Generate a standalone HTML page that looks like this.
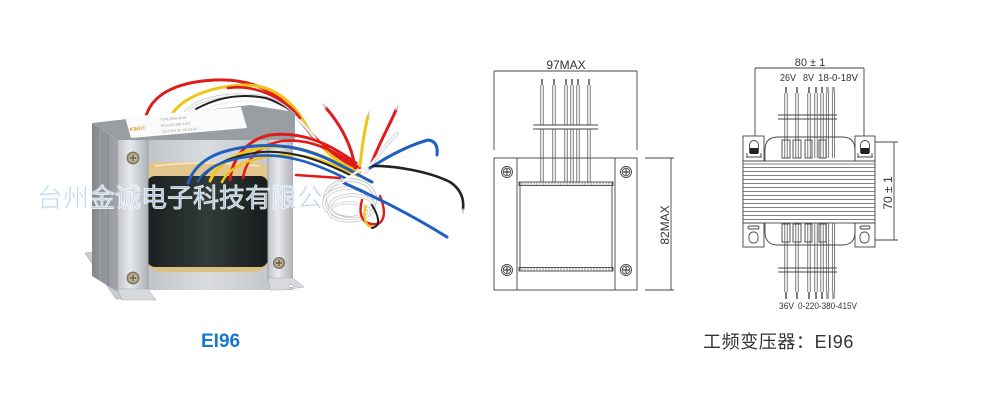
<!DOCTYPE html>
<html><head><meta charset="utf-8"><style>
html,body{margin:0;padding:0;background:#fff;}
svg{display:block}
</style></head><body>
<svg width="1000" height="400" viewBox="0 0 1000 400" xmlns="http://www.w3.org/2000/svg">
<defs>
<linearGradient id="core" x1="0" x2="1" y1="0" y2="0"><stop offset="0" stop-color="#b3b7bb"/><stop offset="0.5" stop-color="#d9dcdf"/><stop offset="1" stop-color="#bcc0c4"/></linearGradient>
<linearGradient id="brk" x1="0" x2="1"><stop offset="0" stop-color="#c0c4c9"/><stop offset="0.4" stop-color="#e8eaec"/><stop offset="1" stop-color="#aeb2b7"/></linearGradient>
<linearGradient id="stack" x1="0" x2="1"><stop offset="0" stop-color="#83888d"/><stop offset="1" stop-color="#a3a7ac"/></linearGradient>
<linearGradient id="coil" x1="0" x2="1"><stop offset="0" stop-color="#1a201f"/><stop offset="0.5" stop-color="#323b39"/><stop offset="1" stop-color="#171c1b"/></linearGradient>
<radialGradient id="screw"><stop offset="0" stop-color="#f3ead0"/><stop offset="1" stop-color="#8d8460"/></radialGradient>
</defs>

<!-- ================= PHOTO ================= -->
<g fill="none" stroke-linecap="round">
<path d="M145,120 C150,95 175,82 215,80 C255,78 282,95 300,120 C315,140 332,155 356,168" stroke="#e01b1b" stroke-width="3"/>
<path d="M172,114 C185,95 215,86 245,85 C272,85 292,100 306,125 C318,146 335,163 360,172" stroke="#f2c41a" stroke-width="3"/>
<path d="M186,111 C200,98 226,93 256,96 C282,99 297,115 311,135" stroke="#bbb" stroke-width="3.4"/>
<path d="M186,111 C200,98 226,93 256,96 C282,99 297,115 311,135" stroke="#f6f6f6" stroke-width="2.4"/>
<path d="M196,109 C216,98 240,93 266,98 C286,104 300,120 316,141" stroke="#222" stroke-width="2"/>
<path d="M205,109 C225,101 250,99 272,103 C292,110 305,125 320,145" stroke="#f4f4f4" stroke-width="2.4"/>
<path d="M228,88 C255,84 285,98 300,118" stroke="#e01b1b" stroke-width="2.6"/>
</g>

<polygon points="85,253 94,252 121,290 121,299 116,299" fill="#c9cdd1" stroke="#a5a9ad" stroke-width="0.6"/>
<polygon points="92,123 118,140 118,292 92,276" fill="url(#stack)"/>
<line x1="100" y1="130" x2="100" y2="281" stroke="#9fa4a8" stroke-width="1"/>
<line x1="108" y1="135" x2="108" y2="286" stroke="#7d8287" stroke-width="1"/>
<polygon points="92,123 250,105 295,112 295,140 118,140" fill="#999ea3"/>
<polygon points="125,117 241,107 247,128 131,138" fill="#fbfbfb"/>
<text x="130" y="131" font-family="Liberation Sans, sans-serif" font-size="5" font-weight="bold" fill="#e8922a" transform="rotate(-5 130 131)">KINGT</text>
<text x="160" y="121" font-family="Liberation Sans, sans-serif" font-size="3.5" fill="#999" transform="rotate(-5 160 121)">TYPE EI96 50VA</text>
<text x="161" y="127" font-family="Liberation Sans, sans-serif" font-size="3.5" fill="#999" transform="rotate(-5 161 127)">IN 0-220-380-415V</text>
<text x="162" y="133" font-family="Liberation Sans, sans-serif" font-size="3.5" fill="#999" transform="rotate(-5 162 133)">OUT 26V 8V 18-0-18V</text>
<rect x="118" y="140" width="175" height="150" fill="url(#core)"/>
<path d="M147,172 Q147,162 160,162 L255,162 Q268,162 268,172 L268,182 L147,182 Z" fill="#e3c68d"/>
<path d="M155,166 Q200,160 260,166" stroke="#f5e2b5" stroke-width="2" fill="none"/>
<path d="M147,262 Q150,272 165,272 L250,272 Q265,272 268,262 L268,255 L147,255 Z" fill="#dcbf82"/>
<rect x="147" y="176" width="121" height="91" rx="8" fill="url(#coil)"/>
<rect x="118" y="140" width="30" height="156" fill="url(#brk)"/>
<polygon points="118,289 148,289 156,300 122,300" fill="#d7dadd" stroke="#a9adb1" stroke-width="0.5"/>
<line x1="148" y1="140" x2="148" y2="289" stroke="#9ea2a6" stroke-width="1"/>
<rect x="268" y="140" width="25" height="144" fill="url(#brk)"/>
<polygon points="268,278 293,278 304,287 283,290 270,290" fill="#d7dadd" stroke="#a9adb1" stroke-width="0.5"/>
<ellipse cx="291" cy="286" rx="3" ry="1.3" fill="#fff" stroke="#999" stroke-width="0.5"/>
<line x1="268" y1="140" x2="268" y2="280" stroke="#a0a4a8" stroke-width="1"/>
<g stroke="#6a6450" stroke-width="0.8">
<circle cx="133" cy="158" r="6" fill="url(#screw)"/>
<circle cx="133" cy="278" r="6" fill="url(#screw)"/>
<circle cx="279" cy="263" r="5.5" fill="url(#screw)"/>
<path d="M130,158 H136 M133,155 V161 M130,278 H136 M133,275 V281 M276,263 H282 M279,260 V266" stroke="#4d4838" stroke-width="1.2"/>
</g>

<g fill="none" stroke-linecap="round">
<path d="M296,175 L340,178" stroke="#e01b1b" stroke-width="2.6"/>
<path d="M230,180 C232,160 245,140 270,135 C300,131 327,142 356,163" stroke="#e01b1b" stroke-width="3"/>
<path d="M243,178 C246,160 258,145 282,141 C310,138 333,150 360,168" stroke="#e01b1b" stroke-width="2.6"/>
<path d="M210,181 C218,162 238,151 268,147 C300,144 326,156 356,172" stroke="#f2c41a" stroke-width="3"/>
<path d="M222,182 C230,166 250,158 280,155 C308,153 330,163 358,176" stroke="#f2c41a" stroke-width="2.6"/>
<path d="M200,180 C212,164 232,155 262,152 C292,150 320,160 350,175" stroke="#222" stroke-width="2"/>
<path d="M188,183 C196,161 216,151 246,147 C285,142 311,150 340,165 C352,171 362,177 372,182" stroke="#1f5fc2" stroke-width="3"/>
<path d="M198,181 C208,166 226,159 254,156 C285,153 312,162 345,178" stroke="#1f5fc2" stroke-width="2.6"/>
</g>

<g fill="none">
<ellipse cx="350" cy="199" rx="25" ry="19" stroke="#bdbdbd" stroke-width="4"/>
<ellipse cx="350" cy="199" rx="25" ry="19" stroke="#f5f5f5" stroke-width="2.6"/>
<ellipse cx="348" cy="203" rx="24" ry="15" stroke="#c4c4c4" stroke-width="3.5"/>
<ellipse cx="348" cy="203" rx="24" ry="15" stroke="#f8f8f8" stroke-width="2.2"/>
<ellipse cx="352" cy="207" rx="22" ry="12" stroke="#c4c4c4" stroke-width="3.5"/>
<ellipse cx="352" cy="207" rx="22" ry="12" stroke="#f8f8f8" stroke-width="2.2"/>
<ellipse cx="349" cy="212" rx="20" ry="9" stroke="#c8c8c8" stroke-width="3"/>
<ellipse cx="349" cy="212" rx="20" ry="9" stroke="#fafafa" stroke-width="1.8"/>
</g>
<g fill="none" stroke-linecap="round">
<path d="M362,200 C358,215 362,226 378,224 C386,220 385,208 380,196" stroke="#e01b1b" stroke-width="2.4"/>
<path d="M366,206 C362,218 366,228 374,227" stroke="#f2c41a" stroke-width="2.2"/>
<path d="M372,205 C378,215 382,226 372,228" stroke="#222" stroke-width="2"/>
<path d="M355,168 C352,145 340,124 326,108" stroke="#e01b1b" stroke-width="3"/>
<path d="M326,108 L323,104" stroke="#c7c7c7" stroke-width="1.5"/>
<path d="M360,166 C362,146 365,128 368,116" stroke="#f2c41a" stroke-width="3"/>
<path d="M368,116 L369,112" stroke="#c7c7c7" stroke-width="1.5"/>
<path d="M372,162 C380,142 389,126 396,110" stroke="#e01b1b" stroke-width="3"/>
<path d="M396,110 L398,106" stroke="#c7c7c7" stroke-width="1.5"/>
<path d="M366,172 C378,155 388,142 397,134" stroke="#bbb" stroke-width="3.2"/>
<path d="M366,172 C378,155 388,142 397,134" stroke="#f8f8f8" stroke-width="2.2"/>
<path d="M370,168 C390,155 410,145 428,140 C436,141 438,147 437,155" stroke="#1f5fc2" stroke-width="3"/>
<path d="M368,166 C395,165 430,172 450,182 C462,190 464,200 463,209" stroke="#222" stroke-width="2.6"/>
<path d="M463,209 L463,213" stroke="#c7c7c7" stroke-width="1.5"/>
<path d="M342,182 C370,195 402,209 447,237" stroke="#1f5fc2" stroke-width="3"/>
<path d="M338,186 C350,175 360,170 372,164" stroke="#f6f6f6" stroke-width="2.2"/>
</g>

<text x="37" y="207" font-family="Liberation Sans, 'Noto Sans CJK SC', sans-serif" font-size="26" fill="#b3d0ec" fill-opacity="0.9" stroke="#ffffff" stroke-width="0.9" stroke-opacity="0.8">台州金诚电子科技有限公</text>

<!-- ================= DRAWING 1 ================= -->
<g stroke="#444" stroke-width="0.9" fill="none">
<line x1="494" y1="71" x2="637" y2="71"/>
<line x1="494" y1="71" x2="494" y2="150"/>
<line x1="637" y1="71" x2="637" y2="150"/>
<rect x="494" y="158" width="143" height="132"/>
<line x1="517" y1="158" x2="517" y2="290"/>
<line x1="615" y1="158" x2="615" y2="290"/>
<line x1="520" y1="182" x2="520" y2="271"/>
<line x1="612" y1="182" x2="612" y2="271"/>
<rect x="519" y="182" width="94" height="3.5"/>
<rect x="519" y="267.5" width="94" height="3.5"/>
<line x1="533" y1="125" x2="598" y2="125"/>
<line x1="533" y1="129" x2="598" y2="129"/>
<line x1="645" y1="158" x2="674" y2="158"/>
<line x1="645" y1="290" x2="674" y2="290"/>
<line x1="671" y1="158" x2="671" y2="290"/>
<circle cx="507" cy="172" r="5.5"/><circle cx="507" cy="172" r="3.8"/>
<circle cx="626" cy="172" r="5.5"/><circle cx="626" cy="172" r="3.8"/>
<circle cx="507" cy="270" r="5.5"/><circle cx="507" cy="270" r="3.8"/>
<circle cx="626" cy="270" r="5.5"/><circle cx="626" cy="270" r="3.8"/>
<path d="M504,172 H510 M507,169 V175 M623,172 H629 M626,169 V175 M504,270 H510 M507,267 V273 M623,270 H629 M626,267 V273" stroke-width="1.2"/>
</g>
<g stroke="#555" stroke-width="0.6">
<path d="M522,182V185.5 M525,182V185.5 M528,182V185.5 M531,182V185.5 M534,182V185.5 M537,182V185.5 M540,182V185.5 M543,182V185.5 M546,182V185.5 M549,182V185.5 M552,182V185.5 M555,182V185.5 M558,182V185.5 M561,182V185.5 M564,182V185.5 M567,182V185.5 M570,182V185.5 M573,182V185.5 M576,182V185.5 M579,182V185.5 M582,182V185.5 M585,182V185.5 M588,182V185.5 M591,182V185.5 M594,182V185.5 M597,182V185.5 M600,182V185.5 M603,182V185.5 M606,182V185.5 M609,182V185.5"/>
<path d="M522,267.5V271 M525,267.5V271 M528,267.5V271 M531,267.5V271 M534,267.5V271 M537,267.5V271 M540,267.5V271 M543,267.5V271 M546,267.5V271 M549,267.5V271 M552,267.5V271 M555,267.5V271 M558,267.5V271 M561,267.5V271 M564,267.5V271 M567,267.5V271 M570,267.5V271 M573,267.5V271 M576,267.5V271 M579,267.5V271 M582,267.5V271 M585,267.5V271 M588,267.5V271 M591,267.5V271 M594,267.5V271 M597,267.5V271 M600,267.5V271 M603,267.5V271 M606,267.5V271 M609,267.5V271"/>
</g>
<g stroke="#444" stroke-width="0.7" fill="none">
<path d="M540.8,85V182 M543.2,85V182 M541.4,79V85 M542.6,79V85"/>
<path d="M552.8,85V182 M555.2,85V182 M553.4,79V85 M554.6,79V85"/>
<path d="M564.8,85V182 M567.2,85V182 M565.4,79V85 M566.6,79V85"/>
<path d="M570.8,85V182 M573.2,85V182 M571.4,79V85 M572.6,79V85"/>
<path d="M576.8,85V182 M579.2,85V182 M577.4,79V85 M578.6,79V85"/>
<path d="M587.8,85V182 M590.2,85V182 M588.4,79V85 M589.6,79V85"/>
</g>
<rect x="534" y="125.5" width="63" height="3" fill="#fff"/>
<text x="566" y="69" text-anchor="middle" font-family="Liberation Sans, sans-serif" font-size="12" fill="#333">97MAX</text>
<text transform="translate(669,225) rotate(-90)" text-anchor="middle" font-family="Liberation Sans, sans-serif" font-size="12" fill="#333">82MAX</text>

<!-- ================= DRAWING 2 ================= -->
<g stroke="#444" stroke-width="0.9" fill="none">
<line x1="755" y1="68" x2="864" y2="68"/>
<line x1="755" y1="68" x2="755" y2="136"/>
<line x1="864" y1="68" x2="864" y2="136"/>
<rect x="743" y="136" width="21" height="25"/>
<rect x="855" y="136" width="20" height="25"/>
<path d="M765,161 V150 Q765,137 778,137 H842 Q855,137 855,150 V161"/>
<path d="M765,223 V232 Q765,245 778,245 H842 Q855,245 855,232 V223"/>
<rect x="743" y="161" width="132" height="62"/>
<rect x="743" y="223" width="21" height="24"/>
<rect x="855" y="223" width="20" height="24"/>
<rect x="748" y="226" width="11" height="3" rx="1.5"/>
<rect x="860" y="226" width="10" height="3" rx="1.5"/>
<rect x="749" y="232" width="9" height="11" rx="4"/>
<rect x="860" y="232" width="9" height="11" rx="4"/>
<path d="M749.5,153 V145 A4.5,4.5 0 0 1 758.5,145 V153"/>
<path d="M860.5,153 V145 A4.5,4.5 0 0 1 869.5,145 V153"/>
<path d="M746,157 H762 M747,153 V157 M761,153 V157 M857,157 H873 M858,153 V157 M872,153 V157"/>
<rect x="782" y="140" width="8" height="18"/>
<rect x="793" y="140" width="8" height="18"/>
<rect x="805" y="140" width="7" height="18"/>
<rect x="819" y="140" width="7" height="18"/>
<rect x="782" y="224" width="8" height="18"/>
<rect x="793" y="224" width="8" height="18"/>
<rect x="805" y="224" width="7" height="18"/>
<rect x="819" y="224" width="7" height="18"/>
<line x1="778" y1="115" x2="837" y2="115"/>
<line x1="778" y1="119" x2="837" y2="119"/>
<line x1="778" y1="268" x2="837" y2="268"/>
<line x1="778" y1="272" x2="837" y2="272"/>
<line x1="875" y1="142" x2="898" y2="142"/>
<line x1="875" y1="240" x2="898" y2="240"/>
<line x1="894" y1="142" x2="894" y2="240"/>
</g>
<rect x="750" y="148" width="8" height="6" fill="#222"/>
<rect x="861" y="148" width="8" height="6" fill="#222"/>
<g stroke="#555" stroke-width="0.7">
<path d="M743,164H875 M743,167.5H875 M743,171.5H875 M743,175.5H875 M743,179.5H875 M743,183.5H875 M743,187.5H875 M743,191.5H875 M743,195.5H875 M743,199.5H875 M743,203.5H875 M743,207.5H875 M743,211.5H875 M743,215.5H875 M743,219.5H875"/>
</g>
<g stroke="#444" stroke-width="0.7" fill="none">
<path d="M784.8,93V158 M787.2,93V158 M785.4,87V93 M786.6,87V93 M784.8,223V292 M787.2,223V292 M785.4,292V299 M786.6,292V299"/>
<path d="M795.8,93V158 M798.2,93V158 M796.4,87V93 M797.6,87V93 M795.8,223V292 M798.2,223V292 M796.4,292V299 M797.6,292V299"/>
<path d="M807.8,93V158 M810.2,93V158 M808.4,87V93 M809.6,87V93 M807.8,223V292 M810.2,223V292 M808.4,292V299 M809.6,292V299"/>
<path d="M814.8,93V158 M817.2,93V158 M815.4,87V93 M816.6,87V93 M814.8,223V292 M817.2,223V292 M815.4,292V299 M816.6,292V299"/>
<path d="M820.8,93V158 M823.2,93V158 M821.4,87V93 M822.6,87V93 M820.8,223V292 M823.2,223V292 M821.4,292V299 M822.6,292V299"/>
<path d="M826.3,93V158 M828.7,93V158 M826.9,87V93 M828.1,87V93 M826.3,223V292 M828.7,223V292 M826.9,292V299 M828.1,292V299"/>
<path d="M832.3,93V158 M834.7,93V158 M832.9,87V93 M834.1,87V93 M832.3,223V292 M834.7,223V292 M832.9,292V299 M834.1,292V299"/>
</g>
<g font-family="Liberation Sans, sans-serif" fill="#333">
<text x="810" y="66" text-anchor="middle" font-size="11">80 ± 1</text>
<text x="780" y="81" font-size="10" textLength="16" lengthAdjust="spacingAndGlyphs">26V</text>
<text x="803" y="81" font-size="10" textLength="11" lengthAdjust="spacingAndGlyphs">8V</text>
<text x="818" y="81" font-size="10" textLength="40" lengthAdjust="spacingAndGlyphs">18-0-18V</text>
<text x="779" y="309" font-size="9.5" textLength="15" lengthAdjust="spacingAndGlyphs">36V</text>
<text x="798" y="309" font-size="9.5" textLength="59" lengthAdjust="spacingAndGlyphs">0-220-380-415V</text>
<text transform="translate(892,193) rotate(-90)" text-anchor="middle" font-size="12">70 ± 1</text>
</g>

<text x="201" y="347" font-family="Liberation Sans, sans-serif" font-size="19" font-weight="bold" fill="#1b78c6">EI96</text>
<text x="703" y="348" font-family="Liberation Sans, 'Noto Sans CJK SC', sans-serif" font-size="18" letter-spacing="0.6" fill="#333">工频变压器：EI96</text>
</svg>
</body></html>
